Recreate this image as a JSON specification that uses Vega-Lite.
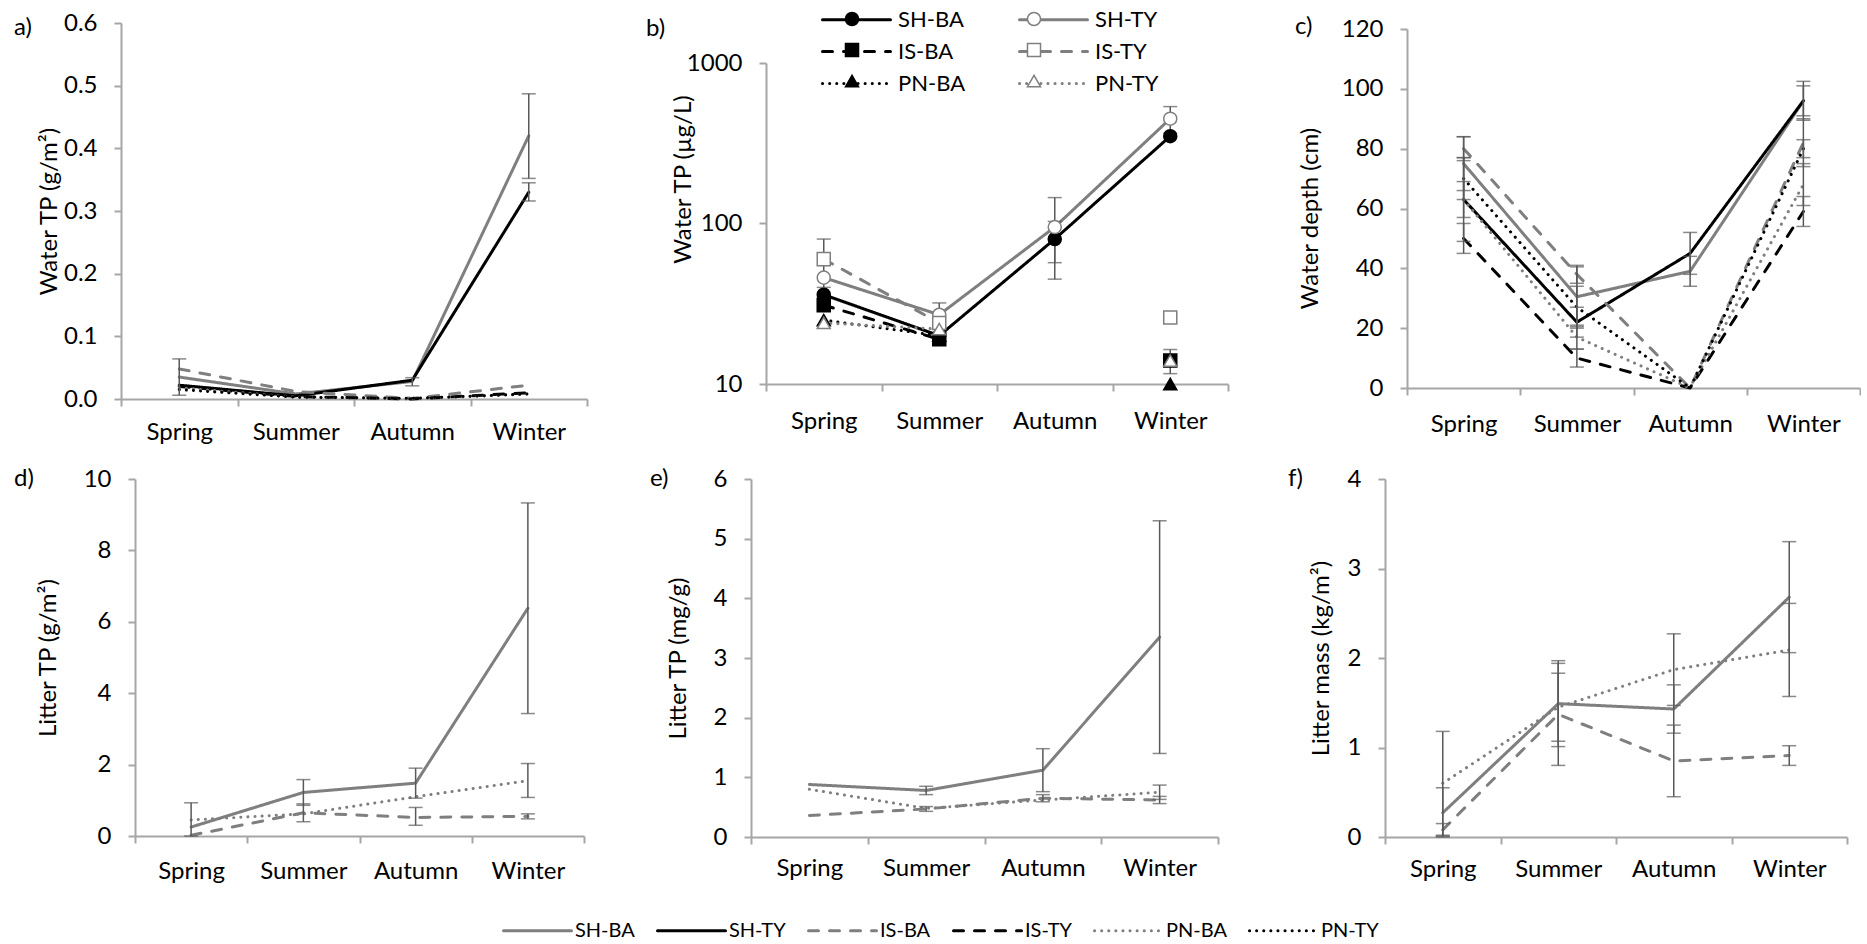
{
  "$schema": "https://vega.github.io/schema/vega-lite/v6.json",
  "background": "white",
  "padding": {"left": 14, "top": 8, "right": 0, "bottom": 0},
  "config": {
    "font": "Lato",
    "view": {"stroke": null},
    "axis": {"grid": false, "domainColor": "#a6a6a6", "domainWidth": 2, "tickColor": "#a6a6a6", "tickWidth": 2, "tickSize": 7, "labelFont": "Lato", "labelFontSize": 24, "labelColor": "#000000", "labelFlush": false, "labelOverlap": false, "titleFont": "Lato", "titleFontSize": 24, "titleFontWeight": "normal", "titleColor": "#000000"},
    "axisX": {"tickBand": "extent", "labelAngle": 0},
    "axisY": {"labelPadding": 17, "titleBaseline": "middle", "titleAngle": 270},
    "title": {"anchor": "start", "frame": "group", "baseline": "middle", "offset": 0, "font": "Lato", "fontSize": 24, "fontWeight": "normal", "color": "#000000"},
    "legend": {"labelFont": "Lato", "labelColor": "#000000"}
  },
  "datasets": {
    "obs": [
      {"panel": "a", "season": "Spring", "series": "SH-BA", "value": 0.035, "lo": 0.006, "hi": 0.064},
      {"panel": "a", "season": "Summer", "series": "SH-BA", "value": 0.008},
      {"panel": "a", "season": "Autumn", "series": "SH-BA", "value": 0.028, "lo": 0.021, "hi": 0.034},
      {"panel": "a", "season": "Winter", "series": "SH-BA", "value": 0.42, "lo": 0.352, "hi": 0.487},
      {"panel": "a", "season": "Spring", "series": "SH-TY", "value": 0.022},
      {"panel": "a", "season": "Summer", "series": "SH-TY", "value": 0.005},
      {"panel": "a", "season": "Autumn", "series": "SH-TY", "value": 0.03},
      {"panel": "a", "season": "Winter", "series": "SH-TY", "value": 0.33, "lo": 0.316, "hi": 0.345},
      {"panel": "a", "season": "Spring", "series": "IS-BA", "value": 0.048},
      {"panel": "a", "season": "Summer", "series": "IS-BA", "value": 0.012},
      {"panel": "a", "season": "Autumn", "series": "IS-BA", "value": 0.001},
      {"panel": "a", "season": "Winter", "series": "IS-BA", "value": 0.022},
      {"panel": "a", "season": "Spring", "series": "IS-TY", "value": 0.02},
      {"panel": "a", "season": "Summer", "series": "IS-TY", "value": 0.004},
      {"panel": "a", "season": "Autumn", "series": "IS-TY", "value": 0.0},
      {"panel": "a", "season": "Winter", "series": "IS-TY", "value": 0.01},
      {"panel": "a", "season": "Spring", "series": "PN-BA", "value": 0.018},
      {"panel": "a", "season": "Summer", "series": "PN-BA", "value": 0.003},
      {"panel": "a", "season": "Autumn", "series": "PN-BA", "value": 0.0},
      {"panel": "a", "season": "Winter", "series": "PN-BA", "value": 0.008},
      {"panel": "a", "season": "Spring", "series": "PN-TY", "value": 0.015},
      {"panel": "a", "season": "Summer", "series": "PN-TY", "value": 0.003},
      {"panel": "a", "season": "Autumn", "series": "PN-TY", "value": 0.001},
      {"panel": "a", "season": "Winter", "series": "PN-TY", "value": 0.008},

      {"panel": "b", "season": "Spring", "series": "SH-BA", "value": 36},
      {"panel": "b", "season": "Summer", "series": "SH-BA", "value": 20},
      {"panel": "b", "season": "Autumn", "series": "SH-BA", "value": 80, "lo": 57, "hi": 103},
      {"panel": "b", "season": "Winter", "series": "SH-BA", "value": 350},
      {"panel": "b", "season": "Spring", "series": "SH-TY", "value": 46},
      {"panel": "b", "season": "Summer", "series": "SH-TY", "value": 27, "lo": 22, "hi": 32},
      {"panel": "b", "season": "Autumn", "series": "SH-TY", "value": 95, "lo": 45, "hi": 145},
      {"panel": "b", "season": "Winter", "series": "SH-TY", "value": 450, "lo": 365, "hi": 535},
      {"panel": "b", "season": "Spring", "series": "IS-BA", "value": 31},
      {"panel": "b", "season": "Summer", "series": "IS-BA", "value": 19},
      {"panel": "b", "season": "Autumn", "series": "IS-BA", "value": null},
      {"panel": "b", "season": "Winter", "series": "IS-BA", "value": 14, "lo": 11.6, "hi": 16.4},
      {"panel": "b", "season": "Spring", "series": "IS-TY", "value": 60, "lo": 40, "hi": 80},
      {"panel": "b", "season": "Summer", "series": "IS-TY", "value": 24},
      {"panel": "b", "season": "Autumn", "series": "IS-TY", "value": null},
      {"panel": "b", "season": "Winter", "series": "IS-TY", "value": 26},
      {"panel": "b", "season": "Spring", "series": "PN-BA", "value": 25},
      {"panel": "b", "season": "Summer", "series": "PN-BA", "value": 20},
      {"panel": "b", "season": "Autumn", "series": "PN-BA", "value": null},
      {"panel": "b", "season": "Winter", "series": "PN-BA", "value": 10},
      {"panel": "b", "season": "Spring", "series": "PN-TY", "value": 24},
      {"panel": "b", "season": "Summer", "series": "PN-TY", "value": 22},
      {"panel": "b", "season": "Autumn", "series": "PN-TY", "value": null},
      {"panel": "b", "season": "Winter", "series": "PN-TY", "value": 14},

      {"panel": "c", "season": "Spring", "series": "SH-BA", "value": 75, "lo": 66, "hi": 84},
      {"panel": "c", "season": "Summer", "series": "SH-BA", "value": 30.5, "lo": 20.5, "hi": 40.5},
      {"panel": "c", "season": "Autumn", "series": "SH-BA", "value": 39, "lo": 34, "hi": 44},
      {"panel": "c", "season": "Winter", "series": "SH-BA", "value": 96, "lo": 89.5, "hi": 102.5},
      {"panel": "c", "season": "Spring", "series": "SH-TY", "value": 63, "lo": 49, "hi": 77},
      {"panel": "c", "season": "Summer", "series": "SH-TY", "value": 22, "lo": 17, "hi": 27},
      {"panel": "c", "season": "Autumn", "series": "SH-TY", "value": 45, "lo": 38, "hi": 52},
      {"panel": "c", "season": "Winter", "series": "SH-TY", "value": 96, "lo": 91, "hi": 101},
      {"panel": "c", "season": "Spring", "series": "IS-BA", "value": 80, "lo": 76, "hi": 84},
      {"panel": "c", "season": "Summer", "series": "IS-BA", "value": 38, "lo": 35, "hi": 41},
      {"panel": "c", "season": "Autumn", "series": "IS-BA", "value": 0},
      {"panel": "c", "season": "Winter", "series": "IS-BA", "value": 82, "lo": 74, "hi": 90},
      {"panel": "c", "season": "Spring", "series": "IS-TY", "value": 50, "lo": 45, "hi": 55},
      {"panel": "c", "season": "Summer", "series": "IS-TY", "value": 10, "lo": 7, "hi": 13},
      {"panel": "c", "season": "Autumn", "series": "IS-TY", "value": 0},
      {"panel": "c", "season": "Winter", "series": "IS-TY", "value": 59, "lo": 54, "hi": 64},
      {"panel": "c", "season": "Spring", "series": "PN-BA", "value": 63, "lo": 57, "hi": 69},
      {"panel": "c", "season": "Summer", "series": "PN-BA", "value": 17, "lo": 13, "hi": 21},
      {"panel": "c", "season": "Autumn", "series": "PN-BA", "value": 0},
      {"panel": "c", "season": "Winter", "series": "PN-BA", "value": 68, "lo": 61, "hi": 75},
      {"panel": "c", "season": "Spring", "series": "PN-TY", "value": 70, "lo": 63, "hi": 77},
      {"panel": "c", "season": "Summer", "series": "PN-TY", "value": 27, "lo": 20, "hi": 34},
      {"panel": "c", "season": "Autumn", "series": "PN-TY", "value": 0},
      {"panel": "c", "season": "Winter", "series": "PN-TY", "value": 80, "lo": 77, "hi": 83},

      {"panel": "d", "season": "Spring", "series": "SH-BA", "value": 0.25, "lo": 0, "hi": 0.93},
      {"panel": "d", "season": "Summer", "series": "SH-BA", "value": 1.22, "lo": 0.86, "hi": 1.58},
      {"panel": "d", "season": "Autumn", "series": "SH-BA", "value": 1.48, "lo": 1.06, "hi": 1.9},
      {"panel": "d", "season": "Winter", "series": "SH-BA", "value": 6.38, "lo": 3.43, "hi": 9.33},
      {"panel": "d", "season": "Spring", "series": "IS-BA", "value": 0.02},
      {"panel": "d", "season": "Summer", "series": "IS-BA", "value": 0.65, "lo": 0.4, "hi": 0.9},
      {"panel": "d", "season": "Autumn", "series": "IS-BA", "value": 0.52, "lo": 0.3, "hi": 0.8},
      {"panel": "d", "season": "Winter", "series": "IS-BA", "value": 0.55, "lo": 0.48, "hi": 0.62},
      {"panel": "d", "season": "Spring", "series": "PN-BA", "value": 0.45},
      {"panel": "d", "season": "Summer", "series": "PN-BA", "value": 0.62},
      {"panel": "d", "season": "Autumn", "series": "PN-BA", "value": 1.1},
      {"panel": "d", "season": "Winter", "series": "PN-BA", "value": 1.55, "lo": 1.08, "hi": 2.03},

      {"panel": "e", "season": "Spring", "series": "SH-BA", "value": 0.88},
      {"panel": "e", "season": "Summer", "series": "SH-BA", "value": 0.78, "lo": 0.71, "hi": 0.85},
      {"panel": "e", "season": "Autumn", "series": "SH-BA", "value": 1.12, "lo": 0.76, "hi": 1.48},
      {"panel": "e", "season": "Winter", "series": "SH-BA", "value": 3.35, "lo": 1.4, "hi": 5.3},
      {"panel": "e", "season": "Spring", "series": "IS-BA", "value": 0.36},
      {"panel": "e", "season": "Summer", "series": "IS-BA", "value": 0.47, "lo": 0.43, "hi": 0.51},
      {"panel": "e", "season": "Autumn", "series": "IS-BA", "value": 0.65, "lo": 0.59, "hi": 0.71},
      {"panel": "e", "season": "Winter", "series": "IS-BA", "value": 0.62, "lo": 0.56, "hi": 0.68},
      {"panel": "e", "season": "Spring", "series": "PN-BA", "value": 0.8},
      {"panel": "e", "season": "Summer", "series": "PN-BA", "value": 0.48},
      {"panel": "e", "season": "Autumn", "series": "PN-BA", "value": 0.62},
      {"panel": "e", "season": "Winter", "series": "PN-BA", "value": 0.75, "lo": 0.63, "hi": 0.87},

      {"panel": "f", "season": "Spring", "series": "SH-BA", "value": 0.27, "lo": 0, "hi": 0.55},
      {"panel": "f", "season": "Summer", "series": "SH-BA", "value": 1.49, "lo": 1.01, "hi": 1.97},
      {"panel": "f", "season": "Autumn", "series": "SH-BA", "value": 1.43, "lo": 1.16, "hi": 1.7},
      {"panel": "f", "season": "Winter", "series": "SH-BA", "value": 2.68, "lo": 2.06, "hi": 3.3},
      {"panel": "f", "season": "Spring", "series": "IS-BA", "value": 0.08, "lo": 0.01, "hi": 0.15},
      {"panel": "f", "season": "Summer", "series": "IS-BA", "value": 1.37, "lo": 0.8, "hi": 1.94},
      {"panel": "f", "season": "Autumn", "series": "IS-BA", "value": 0.85, "lo": 0.45, "hi": 1.25},
      {"panel": "f", "season": "Winter", "series": "IS-BA", "value": 0.91, "lo": 0.8, "hi": 1.02},
      {"panel": "f", "season": "Spring", "series": "PN-BA", "value": 0.6, "lo": 0.02, "hi": 1.18},
      {"panel": "f", "season": "Summer", "series": "PN-BA", "value": 1.45, "lo": 1.07, "hi": 1.83},
      {"panel": "f", "season": "Autumn", "series": "PN-BA", "value": 1.87, "lo": 1.47, "hi": 2.27},
      {"panel": "f", "season": "Winter", "series": "PN-BA", "value": 2.09, "lo": 1.57, "hi": 2.61}
    ]
  },
  "concat": [
    {
      "hconcat": [
        {
          "width": 466, "height": 376,
          "title": {"text": "a)", "dx": -107, "dy": 33},
          "data": {"name": "obs"},
          "transform": [{"filter": "datum.panel === 'a'"}],
          "encoding": {"x": {"field": "season", "type": "ordinal", "sort": ["Spring", "Summer", "Autumn", "Winter"], "bandPosition": 0.5, "scale": {"type": "band", "paddingInner": 0, "paddingOuter": 0}, "axis": {"title": null, "labelPadding": 14}}},
          "layer": [
            {"mark": {"type": "line", "strokeWidth": 3, "strokeCap": "round", "strokeJoin": "round"},
             "encoding": {
               "y": {"field": "value", "type": "quantitative", "scale": {"domain": [0, 0.6]}, "axis": {"title": "Water TP (g/m²)", "values": [0, 0.1, 0.2, 0.3, 0.4, 0.5, 0.6], "format": ".1f", "titleX": -72}},
               "color": {"field": "series", "type": "nominal", "scale": {"domain": ["SH-BA", "SH-TY", "IS-BA", "IS-TY", "PN-BA", "PN-TY"], "range": ["#7f7f7f", "#000000", "#7f7f7f", "#000000", "#7f7f7f", "#000000"]}, "legend": null},
               "strokeDash": {"field": "series", "type": "nominal", "scale": {"domain": ["SH-BA", "SH-TY", "IS-BA", "IS-TY", "PN-BA", "PN-TY"], "range": [[1, 0], [1, 0], [10, 11], [10, 11], [0.1, 7], [0.1, 7]]}, "legend": null}
             }},
            {"mark": {"type": "rule", "color": "#595959", "strokeWidth": 1.5}, "encoding": {"y": {"field": "lo", "type": "quantitative"}, "y2": {"field": "hi"}}},
            {"mark": {"type": "tick", "color": "#595959", "thickness": 1.5, "size": 14}, "encoding": {"y": {"field": "lo", "type": "quantitative"}}},
            {"mark": {"type": "tick", "color": "#595959", "thickness": 1.5, "size": 14}, "encoding": {"y": {"field": "hi", "type": "quantitative"}}}
          ]
        },
        {
          "width": 462, "height": 361,
          "title": {"text": "b)", "dx": -120, "dy": 37},
          "data": {"name": "obs"},
          "transform": [{"filter": "datum.panel === 'b'"}],
          "encoding": {"x": {"field": "season", "type": "ordinal", "sort": ["Spring", "Summer", "Autumn", "Winter"], "bandPosition": 0.5, "scale": {"type": "band", "paddingInner": 0, "paddingOuter": 0}, "axis": {"title": null, "labelPadding": 18}}},
          "layer": [
            {"mark": {"type": "line", "strokeWidth": 3, "strokeCap": "round", "strokeJoin": "round", "invalid": "break-paths-show-domains"},
             "encoding": {
               "y": {"field": "value", "type": "quantitative", "scale": {"type": "log", "domain": [10, 1000], "range": [361, 40]}, "axis": {"title": "Water TP (µg/L)", "values": [10, 100, 1000], "format": "d", "titleX": -83, "titleY": 156}},
               "color": {"field": "series", "type": "nominal", "scale": {"domain": ["SH-BA", "SH-TY", "IS-BA", "IS-TY", "PN-BA", "PN-TY"], "range": ["#000000", "#7f7f7f", "#000000", "#7f7f7f", "#000000", "#7f7f7f"]},
                 "legend": {"orient": "none", "legendX": 55, "legendY": -15, "direction": "horizontal", "columns": 2, "title": null, "symbolType": "M-1,0H5.8", "symbolSize": 400, "symbolStrokeWidth": 3, "labelFontSize": 22, "labelOffset": 54, "columnPadding": 47, "rowPadding": 9, "padding": 0, "encode": {"symbols": {"update": {"strokeCap": {"value": "round"}, "fill": {"value": "transparent"}}}}}},
               "strokeDash": {"field": "series", "type": "nominal", "scale": {"domain": ["SH-BA", "SH-TY", "IS-BA", "IS-TY", "PN-BA", "PN-TY"], "range": [[1, 0], [1, 0], [10, 11], [10, 11], [0.1, 7], [0.1, 7]]},
                 "legend": {"orient": "none", "legendX": 55, "legendY": -15, "direction": "horizontal", "columns": 2, "title": null, "symbolType": "M-1,0H5.8", "symbolSize": 400, "symbolStrokeWidth": 3, "labelFontSize": 22, "labelOffset": 54, "columnPadding": 47, "rowPadding": 9, "padding": 0, "encode": {"symbols": {"update": {"strokeCap": {"value": "round"}, "fill": {"value": "transparent"}}}}}}
             }},
            {"mark": {"type": "rule", "color": "#595959", "strokeWidth": 1.5}, "encoding": {"y": {"field": "lo", "type": "quantitative"}, "y2": {"field": "hi"}}},
            {"mark": {"type": "tick", "color": "#595959", "thickness": 1.5, "size": 14}, "encoding": {"y": {"field": "lo", "type": "quantitative"}}},
            {"mark": {"type": "tick", "color": "#595959", "thickness": 1.5, "size": 14}, "encoding": {"y": {"field": "hi", "type": "quantitative"}}},
            {"mark": {"type": "point", "filled": true, "size": 170, "strokeWidth": 1.5, "opacity": 1},
             "encoding": {
               "y": {"field": "value", "type": "quantitative"},
               "shape": {"field": "series", "type": "nominal", "scale": {"domain": ["SH-TY", "SH-BA", "IS-TY", "IS-BA", "PN-TY", "PN-BA"], "range": ["circle", "circle", "square", "square", "triangle-up", "triangle-up"]},
                 "legend": {"orient": "none", "legendX": 75, "legendY": -15, "direction": "horizontal", "columns": 2, "title": null, "values": ["SH-BA", "SH-TY", "IS-BA", "IS-TY", "PN-BA", "PN-TY"], "symbolSize": 170, "symbolStrokeWidth": 1.5, "labelFontSize": 22, "labelExpr": "''", "labelOffset": 113, "columnPadding": 47, "rowPadding": 9, "padding": 0}},
               "fill": {"field": "series", "type": "nominal", "scale": {"domain": ["SH-TY", "SH-BA", "IS-TY", "IS-BA", "PN-TY", "PN-BA"], "range": ["#ffffff", "#000000", "#ffffff", "#000000", "#ffffff", "#000000"]},
                 "legend": {"orient": "none", "legendX": 75, "legendY": -15, "direction": "horizontal", "columns": 2, "title": null, "values": ["SH-BA", "SH-TY", "IS-BA", "IS-TY", "PN-BA", "PN-TY"], "symbolSize": 170, "symbolStrokeWidth": 1.5, "labelFontSize": 22, "labelExpr": "''", "labelOffset": 113, "columnPadding": 47, "rowPadding": 9, "padding": 0}},
               "stroke": {"field": "series", "type": "nominal", "scale": {"domain": ["SH-TY", "SH-BA", "IS-TY", "IS-BA", "PN-TY", "PN-BA"], "range": ["#7f7f7f", "#000000", "#7f7f7f", "#000000", "#7f7f7f", "#000000"]},
                 "legend": {"orient": "none", "legendX": 75, "legendY": -15, "direction": "horizontal", "columns": 2, "title": null, "values": ["SH-BA", "SH-TY", "IS-BA", "IS-TY", "PN-BA", "PN-TY"], "symbolSize": 170, "symbolStrokeWidth": 1.5, "labelFontSize": 22, "labelExpr": "''", "labelOffset": 113, "columnPadding": 47, "rowPadding": 9, "padding": 0}}
             }}
          ]
        },
        {
          "width": 453, "height": 365,
          "title": {"text": "c)", "dx": -112, "dy": 26},
          "data": {"name": "obs"},
          "transform": [{"filter": "datum.panel === 'c'"}],
          "encoding": {"x": {"field": "season", "type": "ordinal", "sort": ["Spring", "Summer", "Autumn", "Winter"], "bandPosition": 0.5, "scale": {"type": "band", "paddingInner": 0, "paddingOuter": 0}, "axis": {"title": null, "labelPadding": 17}}},
          "layer": [
            {"mark": {"type": "line", "strokeWidth": 3, "strokeCap": "round", "strokeJoin": "round"},
             "encoding": {
               "y": {"field": "value", "type": "quantitative", "scale": {"domain": [0, 120], "range": [365, 6]}, "axis": {"title": "Water depth (cm)", "values": [0, 20, 40, 60, 80, 100, 120], "format": "d", "titleX": -97, "titleY": 195}},
               "color": {"field": "series", "type": "nominal", "scale": {"domain": ["SH-BA", "SH-TY", "IS-BA", "IS-TY", "PN-BA", "PN-TY"], "range": ["#7f7f7f", "#000000", "#7f7f7f", "#000000", "#7f7f7f", "#000000"]}, "legend": null},
               "strokeDash": {"field": "series", "type": "nominal", "scale": {"domain": ["SH-BA", "SH-TY", "IS-BA", "IS-TY", "PN-BA", "PN-TY"], "range": [[1, 0], [1, 0], [10, 11], [10, 11], [0.1, 7], [0.1, 7]]}, "legend": null}
             }},
            {"mark": {"type": "rule", "color": "#595959", "strokeWidth": 1.5}, "encoding": {"y": {"field": "lo", "type": "quantitative"}, "y2": {"field": "hi"}}},
            {"mark": {"type": "tick", "color": "#595959", "thickness": 1.5, "size": 14}, "encoding": {"y": {"field": "lo", "type": "quantitative"}}},
            {"mark": {"type": "tick", "color": "#595959", "thickness": 1.5, "size": 14}, "encoding": {"y": {"field": "hi", "type": "quantitative"}}}
          ]
        }
      ],
      "spacing": 179,
      "bounds": "flush",
      "resolve": {"scale": {"x": "independent", "y": "independent", "color": "independent", "strokeDash": "independent", "shape": "independent", "fill": "independent", "stroke": "independent"}, "legend": {"color": "independent", "strokeDash": "independent", "shape": "independent", "fill": "independent", "stroke": "independent"}}
    },
    {
      "hconcat": [
        {
          "width": 463, "height": 357,
          "title": {"text": "d)", "dx": -107, "dy": 28},
          "data": {"name": "obs"},
          "transform": [{"filter": "datum.panel === 'd'"}],
          "encoding": {"x": {"field": "season", "type": "ordinal", "sort": ["Spring", "Summer", "Autumn", "Winter"], "bandPosition": 0.5, "scale": {"type": "band", "paddingInner": 0, "paddingOuter": 0, "range": [14, 463]}, "axis": {"title": null, "labelPadding": 16}}},
          "layer": [
            {"mark": {"type": "line", "strokeWidth": 3, "strokeCap": "round", "strokeJoin": "round"},
             "encoding": {
               "y": {"field": "value", "type": "quantitative", "scale": {"domain": [0, 10]}, "axis": {"title": "Litter TP (g/m²)", "values": [0, 2, 4, 6, 8, 10], "format": "d", "offset": -14, "titleX": -87}},
               "color": {"field": "series", "type": "nominal", "scale": {"domain": ["SH-BA", "SH-TY", "IS-BA", "IS-TY", "PN-BA", "PN-TY"], "range": ["#7f7f7f", "#000000", "#7f7f7f", "#000000", "#7f7f7f", "#000000"]},
                 "legend": {"orient": "none", "legendX": 381, "legendY": 440, "direction": "horizontal", "columns": 6, "title": null, "symbolType": "M-1,0H5.8", "symbolSize": 400, "symbolStrokeWidth": 3, "labelFontSize": 20, "labelOffset": 50, "columnPadding": 16, "padding": 0, "encode": {"symbols": {"update": {"strokeCap": {"value": "round"}, "fill": {"value": "transparent"}}}}}},
               "strokeDash": {"field": "series", "type": "nominal", "scale": {"domain": ["SH-BA", "SH-TY", "IS-BA", "IS-TY", "PN-BA", "PN-TY"], "range": [[1, 0], [1, 0], [10, 11], [10, 11], [0.1, 7], [0.1, 7]]},
                 "legend": {"orient": "none", "legendX": 381, "legendY": 440, "direction": "horizontal", "columns": 6, "title": null, "symbolType": "M-1,0H5.8", "symbolSize": 400, "symbolStrokeWidth": 3, "labelFontSize": 20, "labelOffset": 50, "columnPadding": 16, "padding": 0, "encode": {"symbols": {"update": {"strokeCap": {"value": "round"}, "fill": {"value": "transparent"}}}}}}
             }},
            {"mark": {"type": "rule", "color": "#595959", "strokeWidth": 1.5}, "encoding": {"y": {"field": "lo", "type": "quantitative"}, "y2": {"field": "hi"}}},
            {"mark": {"type": "tick", "color": "#595959", "thickness": 1.5, "size": 14}, "encoding": {"y": {"field": "lo", "type": "quantitative"}}},
            {"mark": {"type": "tick", "color": "#595959", "thickness": 1.5, "size": 14}, "encoding": {"y": {"field": "hi", "type": "quantitative"}}}
          ]
        },
        {
          "width": 467, "height": 358,
          "title": {"text": "e)", "dx": -101, "dy": 28},
          "data": {"name": "obs"},
          "transform": [{"filter": "datum.panel === 'e'"}],
          "encoding": {"x": {"field": "season", "type": "ordinal", "sort": ["Spring", "Summer", "Autumn", "Winter"], "bandPosition": 0.5, "scale": {"type": "band", "paddingInner": 0, "paddingOuter": 0}, "axis": {"title": null, "labelPadding": 12}}},
          "layer": [
            {"mark": {"type": "line", "strokeWidth": 3, "strokeCap": "round", "strokeJoin": "round"},
             "encoding": {
               "y": {"field": "value", "type": "quantitative", "scale": {"domain": [0, 6]}, "axis": {"title": "Litter TP (mg/g)", "values": [0, 1, 2, 3, 4, 5, 6], "format": "d", "titleX": -73}},
               "color": {"field": "series", "type": "nominal", "scale": {"domain": ["SH-BA", "SH-TY", "IS-BA", "IS-TY", "PN-BA", "PN-TY"], "range": ["#7f7f7f", "#000000", "#7f7f7f", "#000000", "#7f7f7f", "#000000"]}, "legend": null},
               "strokeDash": {"field": "series", "type": "nominal", "scale": {"domain": ["SH-BA", "SH-TY", "IS-BA", "IS-TY", "PN-BA", "PN-TY"], "range": [[1, 0], [1, 0], [10, 11], [10, 11], [0.1, 7], [0.1, 7]]}, "legend": null}
             }},
            {"mark": {"type": "rule", "color": "#595959", "strokeWidth": 1.5}, "encoding": {"y": {"field": "lo", "type": "quantitative"}, "y2": {"field": "hi"}}},
            {"mark": {"type": "tick", "color": "#595959", "thickness": 1.5, "size": 14}, "encoding": {"y": {"field": "lo", "type": "quantitative"}}},
            {"mark": {"type": "tick", "color": "#595959", "thickness": 1.5, "size": 14}, "encoding": {"y": {"field": "hi", "type": "quantitative"}}}
          ]
        },
        {
          "width": 462, "height": 358,
          "title": {"text": "f)", "dx": -97, "dy": 28},
          "data": {"name": "obs"},
          "transform": [{"filter": "datum.panel === 'f'"}],
          "encoding": {"x": {"field": "season", "type": "ordinal", "sort": ["Spring", "Summer", "Autumn", "Winter"], "bandPosition": 0.5, "scale": {"type": "band", "paddingInner": 0, "paddingOuter": 0}, "axis": {"title": null, "labelPadding": 13}}},
          "layer": [
            {"mark": {"type": "line", "strokeWidth": 3, "strokeCap": "round", "strokeJoin": "round"},
             "encoding": {
               "y": {"field": "value", "type": "quantitative", "scale": {"domain": [0, 4]}, "axis": {"title": "Litter mass (kg/m²)", "values": [0, 1, 2, 3, 4], "format": "d", "titleX": -64}},
               "color": {"field": "series", "type": "nominal", "scale": {"domain": ["SH-BA", "SH-TY", "IS-BA", "IS-TY", "PN-BA", "PN-TY"], "range": ["#7f7f7f", "#000000", "#7f7f7f", "#000000", "#7f7f7f", "#000000"]}, "legend": null},
               "strokeDash": {"field": "series", "type": "nominal", "scale": {"domain": ["SH-BA", "SH-TY", "IS-BA", "IS-TY", "PN-BA", "PN-TY"], "range": [[1, 0], [1, 0], [10, 11], [10, 11], [0.1, 7], [0.1, 7]]}, "legend": null}
             }},
            {"mark": {"type": "rule", "color": "#595959", "strokeWidth": 1.5}, "encoding": {"y": {"field": "lo", "type": "quantitative"}, "y2": {"field": "hi"}}},
            {"mark": {"type": "tick", "color": "#595959", "thickness": 1.5, "size": 14}, "encoding": {"y": {"field": "lo", "type": "quantitative"}}},
            {"mark": {"type": "tick", "color": "#595959", "thickness": 1.5, "size": 14}, "encoding": {"y": {"field": "hi", "type": "quantitative"}}}
          ]
        }
      ],
      "spacing": 167,
      "bounds": "flush",
      "resolve": {"scale": {"x": "independent", "y": "independent", "color": "independent", "strokeDash": "independent", "shape": "independent", "fill": "independent", "stroke": "independent"}, "legend": {"color": "independent", "strokeDash": "independent", "shape": "independent", "fill": "independent", "stroke": "independent"}}
    }
  ],
  "columns": 1,
  "spacing": 23,
  "bounds": "full",
  "align": "none",
  "resolve": {"scale": {"x": "independent", "y": "independent", "color": "independent", "strokeDash": "independent", "shape": "independent", "fill": "independent", "stroke": "independent"}, "legend": {"color": "independent", "strokeDash": "independent", "shape": "independent", "fill": "independent", "stroke": "independent"}}
}
